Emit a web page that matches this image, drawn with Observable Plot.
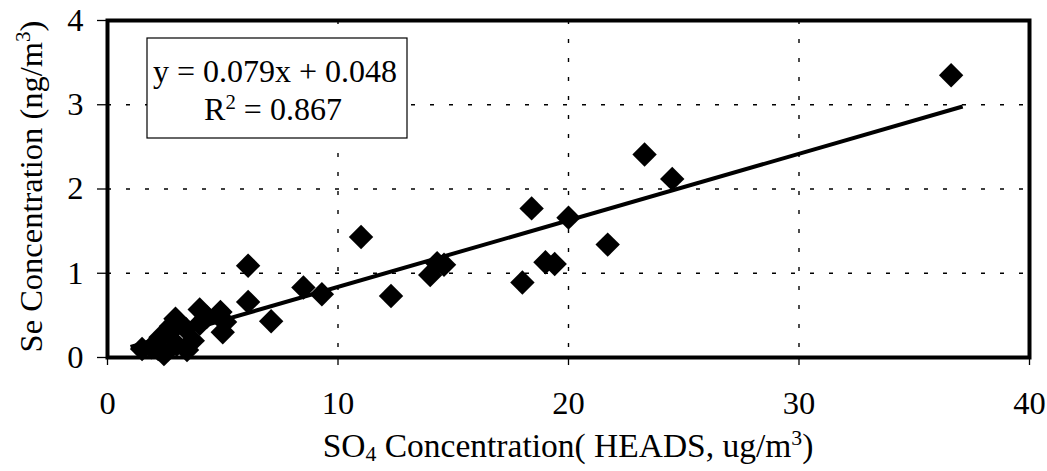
<!DOCTYPE html>
<html>
<head>
<meta charset="utf-8">
<script src="https://cdn.jsdelivr.net/npm/d3@7"></script>
<script src="https://cdn.jsdelivr.net/npm/@observablehq/plot@0.6"></script>
<style>
  html, body { margin: 0; padding: 0; background: #fff; }
  #chart svg { display: block; }
</style>
</head>
<body>
<div id="chart"></div>
<script>
// SO4 (HEADS, ug/m3) vs. Se (ng/m3) sample pairs
const so4 = [1.5, 1.9, 2.2, 2.45, 2.3, 2.6, 2.75, 2.95, 3.0, 3.45,
             3.4, 3.7, 4.0, 4.0, 4.3, 4.9, 5.0, 5.1, 6.1, 6.1,
             7.1, 8.5, 9.3, 11.0, 12.3, 14.0, 14.3, 14.6, 18.0, 18.4,
             19.0, 19.4, 20.0, 21.7, 23.3, 24.5, 36.6];
const se  = [0.10, 0.12, 0.10, 0.04, 0.24, 0.30, 0.37, 0.46, 0.15, 0.09,
             0.34, 0.20, 0.40, 0.57, 0.48, 0.54, 0.30, 0.42, 1.09, 0.66,
             0.43, 0.83, 0.75, 1.43, 0.73, 0.98, 1.12, 1.10, 0.89, 1.77,
             1.13, 1.11, 1.66, 1.34, 2.41, 2.12, 3.35];

// Linear fit reported on the chart
const fitSlope = 0.079;
const fitIntercept = 0.048;
const fitR2 = 0.867;
const fitSpan = [1.0, 37.1];

// Axis ticks
const xTicks = [0, 10, 20, 30, 40];
const yTicks = [0, 1, 2, 3, 4];

const points = so4.map((x, i) => ({x, y: se[i]}));
const fitLine = fitSpan.map(x => ({x, y: fitSlope * x + fitIntercept}));

const FONT = "'Liberation Serif', 'Times New Roman', Times, serif";
const gridStyle = {stroke: "black", strokeOpacity: 1, strokeWidth: 1.4, strokeDasharray: "4,15"};

const chart = Plot.plot({
  width: 1047,
  height: 471,
  marginLeft: 107,
  marginRight: 18,
  marginTop: 20,
  marginBottom: 114,
  style: {fontFamily: FONT, fontSize: "32px", color: "black", background: "white"},
  x: {domain: [0, 40]},
  y: {domain: [0, 4]},
  marks: [
    Plot.gridX(xTicks.slice(1, -1), gridStyle),
    Plot.gridY(yTicks.slice(1, -1), gridStyle),
    Plot.axisX({ticks: xTicks, tickSize: 8, tickPadding: 25, tickFormat: d => String(d),
                fontSize: 32.5, label: null, strokeWidth: 1.3}),
    Plot.axisY({ticks: yTicks, tickSize: 10, tickPadding: 14, tickFormat: d => String(d),
                fontSize: 32.5, label: null, strokeWidth: 1.3}),
    Plot.line(fitLine, {x: "x", y: "y", stroke: "black", strokeWidth: 4, strokeLinecap: "butt"}),
    Plot.dot(points, {x: "x", y: "y", symbol: "diamond2", r: 11, fill: "black", stroke: "none"}),
    Plot.frame({stroke: "black", strokeWidth: 4})
  ]
});

document.getElementById("chart").appendChild(chart);

// Titles and the fit annotation, with real sub/superscripts
const svg = d3.select(chart);
const fx = chart.scale("x"), fy = chart.scale("y");
const plotLeft = fx.range[0], plotRight = fx.range[1];
const plotTop = fy.range[1], plotBottom = fy.range[0];

function addScripted(sel, parts) {
  parts.forEach(p => {
    const t = sel.append("tspan").text(p.t);
    if (p.sup) t.attr("baseline-shift", "super").attr("font-size", "65%");
    if (p.sub) t.attr("baseline-shift", "-18%").attr("font-size", "65%");
  });
}

// x-axis title
addScripted(
  svg.append("text")
    .attr("x", (plotLeft + plotRight) / 2)
    .attr("y", plotBottom + 100)
    .attr("text-anchor", "middle")
    .attr("font-family", FONT).attr("font-size", 33.5).attr("fill", "black"),
  [{t: "SO"}, {t: "4", sub: true}, {t: " Concentration( HEADS, ug/m"}, {t: "3", sup: true}, {t: ")"}]
);

// y-axis title
addScripted(
  svg.append("text")
    .attr("transform", `translate(42,${(plotTop + plotBottom) / 2 - 2}) rotate(-90)`)
    .attr("text-anchor", "middle")
    .attr("font-family", FONT).attr("font-size", 32.5).attr("fill", "black"),
  [{t: "Se Concentration (ng/m"}, {t: "3", sup: true}, {t: ")"}]
);

// regression equation box
const box = {x: plotLeft + 40, y: plotTop + 18, w: 260, h: 100};
svg.append("rect")
  .attr("x", box.x).attr("y", box.y).attr("width", box.w).attr("height", box.h)
  .attr("fill", "white").attr("stroke", "black").attr("stroke-width", 1.2);

svg.append("text")
  .attr("x", box.x + box.w / 2 - 2).attr("y", box.y + 44)
  .attr("text-anchor", "middle")
  .attr("font-family", FONT).attr("font-size", 32).attr("fill", "black")
  .text(`y = ${fitSlope.toFixed(3)}x + ${fitIntercept.toFixed(3)}`);

addScripted(
  svg.append("text")
    .attr("x", box.x + box.w / 2 - 4).attr("y", box.y + 82)
    .attr("text-anchor", "middle")
    .attr("font-family", FONT).attr("font-size", 32).attr("fill", "black"),
  [{t: "R"}, {t: "2", sup: true}, {t: ` = ${fitR2.toFixed(3)}`}]
);
</script>
</body>
</html>
